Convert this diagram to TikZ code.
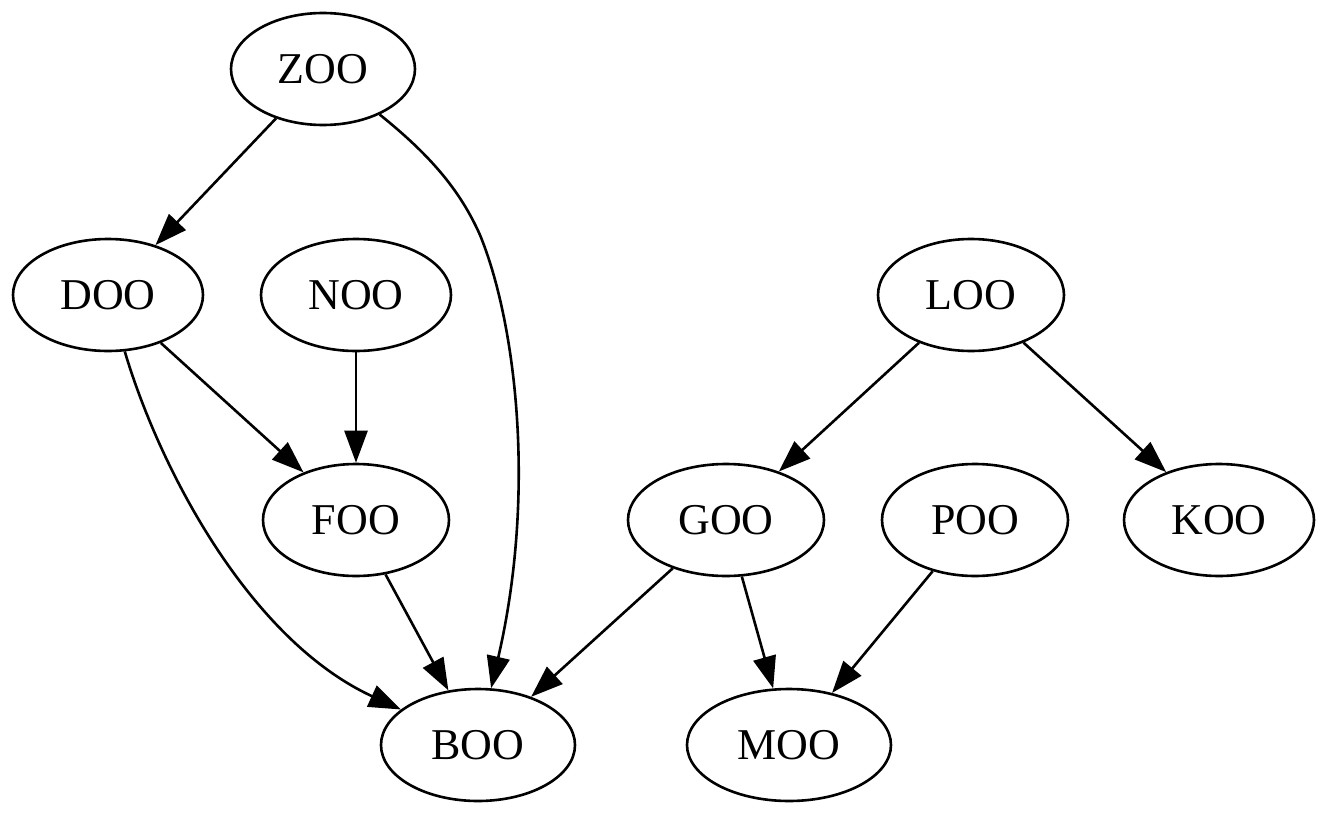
\documentclass[tikz,border=0pt]{standalone}
\usepackage{fontspec}
\setmainfont{Liberation Serif}
\usetikzlibrary{shapes.geometric,arrows.meta}
\begin{document}
\begin{tikzpicture}[x=1pt,y=-1pt,
  nd/.style={ellipse,draw,line width=2.6pt,minimum height=112pt,inner sep=0pt,font=\fontsize{44}{50}\selectfont},
  ar/.style={line width=2.6pt,-{Triangle[length=32pt,width=23pt]}}]
\useasboundingbox (0,0) rectangle (1328,816);
\node[nd,minimum width=184pt] (ZOO) at (323,69) {ZOO};
\node[nd,minimum width=190pt] (DOO) at (108,295) {DOO};
\node[nd,minimum width=190pt] (NOO) at (356,295) {NOO};
\node[nd,minimum width=186pt] (LOO) at (971,295) {LOO};
\node[nd,minimum width=186pt] (FOO) at (356,520) {FOO};
\node[nd,minimum width=196pt] (GOO) at (726,520) {GOO};
\node[nd,minimum width=186pt] (POO) at (975,520) {POO};
\node[nd,minimum width=190pt] (KOO) at (1219,520) {KOO};
\node[nd,minimum width=194pt] (BOO) at (478,745) {BOO};
\node[nd,minimum width=204pt] (MOO) at (789,745) {MOO};
\draw[ar] (ZOO) -- (DOO);
\draw[ar] (ZOO) .. controls (430,155) and (460,190) .. (480,235) .. controls (515,320) and (537,490) .. (BOO);
\draw[ar] (DOO) -- (FOO);
\draw[ar] (DOO) .. controls (160,470) and (250,640) .. (BOO);
\draw[ar] (NOO) -- (FOO);
\draw[ar] (FOO) -- (BOO);
\draw[ar] (LOO) -- (GOO);
\draw[ar] (LOO) -- (KOO);
\draw[ar] (GOO) -- (BOO);
\draw[ar] (GOO) -- (MOO);
\draw[ar] (POO) -- (MOO);
\end{tikzpicture}
\end{document}
